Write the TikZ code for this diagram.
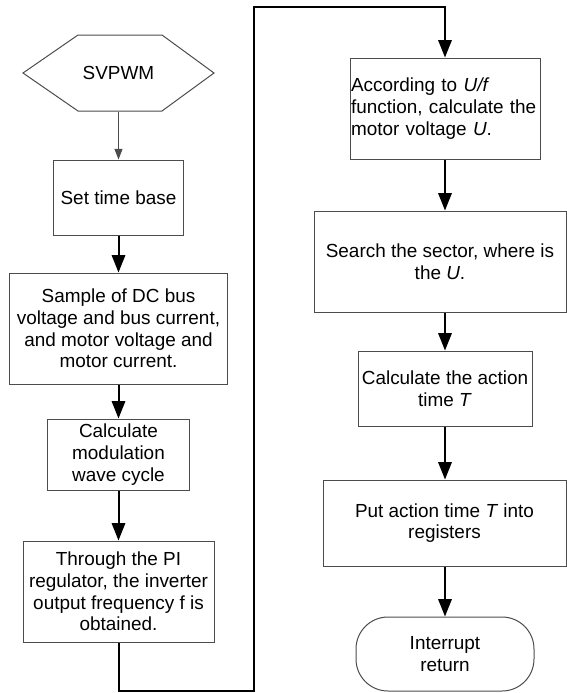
\documentclass[tikz,border=0pt]{standalone}
\usepackage{fontspec}
\setmainfont{Liberation Sans}
\usetikzlibrary{arrows.meta}

\begin{document}
\begin{tikzpicture}[x=0.75pt,y=0.75pt,yscale=-1,xscale=1,
  procbox/.style={draw=black!70,line width=0.75pt,inner sep=0pt,align=center,font=\fontsize{14.2}{16.3}\selectfont},
  flowline/.style={line width=1.5pt,-{Triangle[length=13pt,width=10pt]}},
  thinline/.style={draw=black!70,line width=0.75pt,-{Triangle[length=8pt,width=6pt]}}]

\useasboundingbox (0,0) rectangle (567,693);



\draw [draw=black!70,line width=0.75pt] (23,73) -- (78,35) -- (162,35) -- (214,73) -- (162,111) -- (78,111) -- cycle ;

\node [procbox,draw=none,minimum height=57pt] (svpwm) at (118.5,73) {SVPWM};

\node [procbox,minimum width=97.5pt,minimum height=56.25pt] (settime) at (118.5,197.5) {Set time base};

\node [procbox,minimum width=163.5pt,minimum height=83.25pt] (sample) at (118.5,328.5) {Sample of DC bus\\voltage and bus current,\\and motor voltage and\\motor current.};

\node [procbox,minimum width=106.5pt,minimum height=53.25pt] (calcmod) at (118.5,454.5) {Calculate\\modulation\\wave cycle};

\node [procbox,minimum width=143.25pt,minimum height=75.75pt] (through) at (118.5,591.5) {Through the PI\\regulator, the inverter\\output frequency f is\\obtained.};

\node [procbox,minimum width=142.5pt,minimum height=75.75pt,text width=141pt,align=left] (according) at (445,108.5) {According to \textit{U/f}\\function, calculate the\\motor voltage \textit{U}.};

\node [procbox,minimum width=189pt,minimum height=75.75pt] (search) at (440,261.5) {Search the sector, where is\\the \textit{U}.};

\node [procbox,minimum width=130.5pt,minimum height=56.25pt] (calcact) at (445,388.5) {Calculate the action\\time \textit{T}};

\node [procbox,minimum width=182.25pt,minimum height=64.5pt] (putact) at (444.5,523) {Put action time \textit{T} into\\registers};

\node [procbox,rounded corners=24pt,minimum width=133.5pt,minimum height=55.5pt] (intret) at (445,654) {Interrupt\\return};



\coordinate (loopbot) at (254,691);

\coordinate (looptop) at (254,7);

\draw [thinline] (svpwm.south) -- (settime.north);

\draw [flowline] (settime.south) -- (sample.north);

\draw [flowline] (sample.south) -- (calcmod.north);

\draw [flowline] (calcmod.south) -- (through.north);

\draw [flowline] (through.south) |- (loopbot) -- (looptop) -| (according.north);

\draw [flowline] (according.south) -- (according.south |- search.north);

\draw [flowline] (search.south -| calcact.north) -- (calcact.north);

\draw [flowline] (calcact.south) -- (putact.north -| calcact.south);

\draw [flowline] (putact.south -| intret.north) -- (intret.north);


\end{tikzpicture}
\end{document}
